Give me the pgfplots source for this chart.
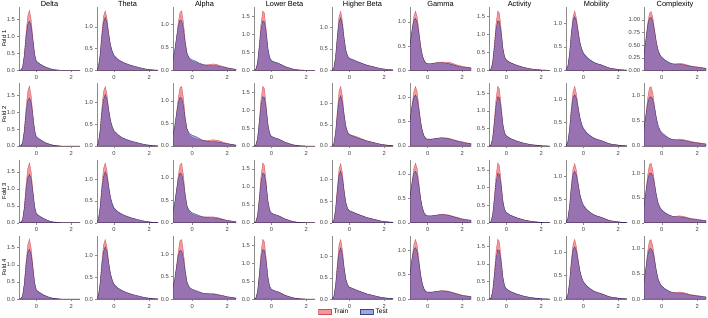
\documentclass[border=0pt]{standalone}
\usepackage{pgfplots}
\pgfplotsset{compat=1.18}
\usepackage{pgfplotstable}
\usepackage{fontspec}
\setmainfont{Liberation Sans}
\definecolor{trainred}{RGB}{235,45,55}
\definecolor{testblue}{RGB}{60,80,200}

% ---------------- data: one table per feature, columns tr<fold>/te<fold> ----------------
\pgfplotstableread{
x     tr1  te1  tr2  te2  tr3  te3  tr4  te4
-1.2  0    0    0    0    0    0    0    0
-1.1  0    0    0    0    0    0    0    0
-1.0  0    0    0    0    0    0    0    0
-0.9  0.01 0.01 0.01 0.01 0.01 0.01 0.01 0.01
-0.8  0.08 0.08 0.09 0.08 0.08 0.08 0.08 0.09
-0.7  0.45 0.42 0.47 0.42 0.46 0.41 0.44 0.43
-0.6  1.10 0.98 1.12 0.97 1.10 0.96 1.08 0.99
-0.5  1.60 1.36 1.61 1.34 1.60 1.34 1.58 1.37
-0.4  1.77 1.45 1.77 1.42 1.77 1.42 1.75 1.45
-0.3  1.50 1.30 1.49 1.28 1.50 1.29 1.49 1.31
-0.2  0.95 0.90 0.93 0.89 0.95 0.91 0.96 0.91
-0.1  0.45 0.47 0.44 0.47 0.45 0.48 0.46 0.47
0.0   0.24 0.27 0.24 0.27 0.25 0.27 0.25 0.26
0.2   0.18 0.19 0.18 0.20 0.18 0.19 0.17 0.19
0.4   0.12 0.13 0.12 0.13 0.12 0.13 0.12 0.12
0.6   0.08 0.08 0.08 0.08 0.07 0.08 0.07 0.08
0.8   0.04 0.05 0.04 0.05 0.04 0.04 0.04 0.04
1.0   0.02 0.02 0.02 0.02 0.02 0.02 0.02 0.02
1.2   0.01 0.01 0.01 0.01 0.01 0.01 0.01 0.01
1.4   0    0    0    0    0    0    0    0
2.5   0    0    0    0    0    0    0    0
}\tdelta

\pgfplotstableread{
x     tr1  te1  tr2  te2  tr3  te3  tr4  te4
-1.2  0    0    0    0    0    0    0    0
-1.1  0    0    0    0    0    0    0    0
-1.0  0.01 0.01 0.01 0.01 0.01 0.01 0.01 0.01
-0.9  0.06 0.06 0.06 0.06 0.06 0.06 0.06 0.06
-0.8  0.35 0.33 0.36 0.32 0.35 0.32 0.35 0.33
-0.7  0.85 0.78 0.86 0.76 0.85 0.75 0.85 0.77
-0.6  1.25 1.10 1.26 1.07 1.25 1.06 1.25 1.09
-0.5  1.37 1.22 1.37 1.18 1.37 1.17 1.37 1.20
-0.4  1.20 1.10 1.19 1.08 1.20 1.07 1.20 1.09
-0.3  0.85 0.82 0.84 0.82 0.85 0.81 0.85 0.82
-0.2  0.58 0.58 0.57 0.59 0.58 0.58 0.58 0.58
-0.1  0.42 0.44 0.42 0.45 0.42 0.44 0.42 0.44
0.0   0.33 0.34 0.33 0.35 0.33 0.34 0.33 0.34
0.2   0.25 0.26 0.25 0.27 0.25 0.26 0.25 0.26
0.4   0.20 0.21 0.20 0.21 0.20 0.21 0.20 0.21
0.6   0.16 0.17 0.16 0.17 0.16 0.17 0.16 0.17
0.8   0.13 0.14 0.13 0.14 0.13 0.14 0.13 0.14
1.0   0.11 0.11 0.11 0.11 0.11 0.11 0.11 0.11
1.2   0.08 0.09 0.08 0.09 0.08 0.09 0.08 0.09
1.4   0.06 0.07 0.06 0.07 0.06 0.07 0.06 0.07
1.6   0.04 0.05 0.04 0.05 0.04 0.05 0.04 0.05
1.8   0.03 0.03 0.03 0.03 0.03 0.03 0.03 0.03
2.0   0.02 0.02 0.02 0.02 0.02 0.02 0.02 0.02
2.2   0.01 0.01 0.01 0.01 0.01 0.01 0.01 0.01
2.5   0.005 0.005 0.005 0.005 0.005 0.005 0.005 0.005
}\ttheta

\pgfplotstableread{
x     tr1  te1  tr2  te2  tr3  te3  tr4  te4
-1.2  0.05 0.08 0.05 0.08 0.05 0.08 0.05 0.08
-1.1  0.23 0.27 0.24 0.27 0.23 0.27 0.24 0.28
-1.0  0.42 0.46 0.43 0.46 0.42 0.46 0.43 0.46
-0.9  0.72 0.72 0.74 0.72 0.73 0.73 0.74 0.72
-0.8  1.05 0.97 1.07 0.96 1.06 0.98 1.07 0.97
-0.7  1.27 1.10 1.30 1.08 1.29 1.10 1.30 1.08
-0.6  1.30 1.08 1.32 1.06 1.32 1.08 1.32 1.06
-0.5  1.05 0.90 1.06 0.89 1.05 0.90 1.05 0.89
-0.4  0.65 0.60 0.64 0.60 0.64 0.60 0.65 0.60
-0.3  0.38 0.38 0.37 0.39 0.37 0.38 0.38 0.38
-0.2  0.27 0.29 0.26 0.30 0.26 0.29 0.27 0.29
-0.1  0.22 0.25 0.21 0.26 0.21 0.25 0.22 0.24
0.0   0.20 0.23 0.19 0.24 0.19 0.22 0.20 0.22
0.2   0.17 0.20 0.16 0.21 0.16 0.19 0.17 0.19
0.4   0.14 0.16 0.14 0.17 0.14 0.16 0.15 0.16
0.6   0.12 0.13 0.12 0.13 0.13 0.13 0.13 0.13
0.8   0.12 0.11 0.12 0.11 0.13 0.12 0.12 0.12
1.0   0.13 0.10 0.13 0.10 0.13 0.11 0.12 0.11
1.2   0.14 0.10 0.14 0.10 0.13 0.11 0.12 0.11
1.4   0.13 0.10 0.13 0.09 0.12 0.10 0.11 0.10
1.6   0.10 0.08 0.11 0.08 0.10 0.08 0.09 0.08
1.8   0.08 0.07 0.08 0.06 0.07 0.07 0.07 0.07
2.0   0.06 0.05 0.06 0.05 0.05 0.05 0.05 0.05
2.2   0.04 0.04 0.04 0.04 0.04 0.04 0.04 0.04
2.5   0.02 0.02 0.02 0.02 0.02 0.02 0.02 0.02
}\talpha

\pgfplotstableread{
x     tr1  te1  tr2  te2  tr3  te3  tr4  te4
-1.2  0    0    0    0    0    0    0    0
-1.1  0    0    0    0    0    0    0    0
-1.0  0    0    0    0    0    0    0    0
-0.9  0.02 0.02 0.02 0.02 0.02 0.02 0.02 0.02
-0.8  0.20 0.20 0.21 0.20 0.20 0.19 0.20 0.20
-0.7  0.70 0.65 0.71 0.64 0.70 0.64 0.70 0.65
-0.6  1.30 1.15 1.31 1.14 1.30 1.14 1.30 1.15
-0.5  1.66 1.38 1.67 1.38 1.67 1.38 1.67 1.38
-0.4  1.60 1.35 1.60 1.35 1.60 1.35 1.60 1.35
-0.3  1.15 1.05 1.14 1.05 1.15 1.05 1.15 1.05
-0.2  0.60 0.62 0.60 0.62 0.60 0.62 0.60 0.62
-0.1  0.33 0.36 0.33 0.36 0.33 0.36 0.33 0.36
0.0   0.26 0.27 0.26 0.27 0.26 0.27 0.26 0.27
0.2   0.22 0.23 0.22 0.23 0.22 0.23 0.22 0.23
0.4   0.19 0.20 0.19 0.20 0.19 0.20 0.19 0.20
0.6   0.15 0.15 0.15 0.15 0.15 0.15 0.15 0.15
0.8   0.10 0.10 0.10 0.10 0.10 0.10 0.10 0.10
1.0   0.07 0.07 0.07 0.07 0.07 0.07 0.07 0.07
1.2   0.04 0.04 0.04 0.04 0.04 0.04 0.04 0.04
1.4   0.02 0.02 0.02 0.02 0.02 0.02 0.02 0.02
1.6   0.01 0.01 0.01 0.01 0.01 0.01 0.01 0.01
1.8   0.005 0.005 0.005 0.005 0.005 0.005 0.005 0.005
2.0   0    0    0    0    0    0    0    0
2.5   0    0    0    0    0    0    0    0
}\tlbeta

\pgfplotstableread{
x     tr1  te1  tr2  te2  tr3  te3  tr4  te4
-1.2  0    0    0    0    0    0    0    0
-1.1  0    0    0    0    0    0    0    0
-1.0  0.005 0.005 0.005 0.005 0.005 0.005 0.005 0.005
-0.9  0.05 0.05 0.05 0.05 0.05 0.05 0.05 0.05
-0.8  0.30 0.30 0.31 0.29 0.30 0.30 0.31 0.30
-0.7  0.80 0.75 0.82 0.73 0.80 0.74 0.82 0.74
-0.6  1.25 1.12 1.28 1.08 1.25 1.10 1.28 1.10
-0.5  1.37 1.22 1.40 1.18 1.37 1.20 1.40 1.20
-0.4  1.15 1.05 1.17 1.03 1.15 1.04 1.16 1.04
-0.3  0.75 0.72 0.75 0.72 0.75 0.72 0.75 0.72
-0.2  0.45 0.46 0.45 0.46 0.45 0.46 0.45 0.46
-0.1  0.32 0.33 0.32 0.32 0.32 0.33 0.32 0.33
0.0   0.27 0.28 0.27 0.27 0.27 0.28 0.27 0.28
0.2   0.24 0.25 0.25 0.23 0.24 0.25 0.24 0.25
0.4   0.21 0.21 0.22 0.20 0.21 0.21 0.21 0.21
0.6   0.18 0.18 0.19 0.17 0.18 0.18 0.18 0.18
0.8   0.15 0.15 0.15 0.15 0.15 0.15 0.15 0.15
1.0   0.12 0.12 0.12 0.12 0.12 0.12 0.12 0.12
1.2   0.10 0.10 0.10 0.10 0.10 0.10 0.10 0.10
1.4   0.08 0.08 0.08 0.08 0.08 0.08 0.08 0.08
1.6   0.06 0.06 0.06 0.06 0.06 0.06 0.06 0.06
1.8   0.04 0.04 0.04 0.04 0.04 0.04 0.04 0.04
2.0   0.03 0.03 0.03 0.03 0.03 0.03 0.03 0.03
2.2   0.02 0.02 0.02 0.02 0.02 0.02 0.02 0.02
2.5   0.01 0.01 0.01 0.01 0.01 0.01 0.01 0.01
}\thbeta

\pgfplotstableread{
x     tr1  te1  tr2  te2  tr3  te3  tr4  te4
-1.2  0.15 0.20 0.15 0.20 0.15 0.20 0.15 0.20
-1.1  0.35 0.40 0.35 0.40 0.35 0.40 0.35 0.40
-1.0  0.55 0.58 0.56 0.58 0.55 0.58 0.55 0.58
-0.9  0.85 0.85 0.86 0.84 0.85 0.84 0.85 0.84
-0.8  1.12 1.03 1.12 1.00 1.12 1.01 1.12 1.01
-0.7  1.22 1.07 1.22 1.04 1.22 1.05 1.22 1.05
-0.6  1.10 0.98 1.10 0.96 1.10 0.97 1.10 0.97
-0.5  0.80 0.75 0.80 0.74 0.80 0.74 0.80 0.74
-0.4  0.50 0.48 0.50 0.48 0.50 0.48 0.50 0.48
-0.3  0.30 0.30 0.30 0.30 0.30 0.30 0.30 0.30
-0.2  0.20 0.20 0.20 0.20 0.20 0.20 0.20 0.20
-0.1  0.15 0.15 0.15 0.15 0.15 0.15 0.15 0.15
0.0   0.14 0.14 0.14 0.14 0.14 0.14 0.14 0.14
0.2   0.14 0.14 0.14 0.14 0.14 0.14 0.14 0.14
0.4   0.15 0.15 0.15 0.15 0.15 0.15 0.15 0.15
0.6   0.16 0.16 0.16 0.16 0.16 0.16 0.16 0.16
0.8   0.17 0.16 0.17 0.17 0.17 0.17 0.17 0.17
1.0   0.17 0.15 0.17 0.16 0.17 0.16 0.17 0.16
1.2   0.17 0.14 0.16 0.15 0.16 0.15 0.16 0.15
1.4   0.15 0.12 0.14 0.13 0.14 0.13 0.14 0.13
1.6   0.12 0.10 0.12 0.11 0.12 0.11 0.12 0.11
1.8   0.10 0.08 0.10 0.09 0.10 0.09 0.10 0.09
2.0   0.08 0.07 0.09 0.07 0.08 0.07 0.08 0.07
2.2   0.07 0.06 0.07 0.06 0.07 0.06 0.07 0.06
2.5   0.05 0.05 0.05 0.05 0.05 0.05 0.05 0.05
}\tgamma

\pgfplotstableread{
x     tr1  te1  tr2  te2  tr3  te3  tr4  te4
-1.2  0    0    0    0    0    0    0    0
-1.1  0    0    0    0    0    0    0    0
-1.0  0    0    0    0    0    0    0    0
-0.9  0.02 0.02 0.02 0.02 0.02 0.02 0.02 0.02
-0.8  0.20 0.19 0.21 0.19 0.20 0.19 0.20 0.19
-0.7  0.70 0.64 0.71 0.64 0.71 0.64 0.71 0.64
-0.6  1.30 1.14 1.33 1.14 1.33 1.14 1.33 1.14
-0.5  1.66 1.38 1.70 1.40 1.70 1.40 1.70 1.40
-0.4  1.60 1.36 1.62 1.37 1.62 1.37 1.62 1.37
-0.3  1.15 1.05 1.15 1.05 1.15 1.05 1.15 1.05
-0.2  0.60 0.62 0.60 0.62 0.60 0.62 0.60 0.62
-0.1  0.35 0.37 0.35 0.37 0.35 0.37 0.35 0.37
0.0   0.28 0.29 0.28 0.29 0.28 0.29 0.28 0.29
0.2   0.22 0.22 0.22 0.22 0.22 0.22 0.22 0.22
0.4   0.18 0.18 0.18 0.18 0.18 0.18 0.18 0.18
0.6   0.14 0.14 0.14 0.14 0.14 0.14 0.14 0.14
0.8   0.11 0.11 0.11 0.11 0.11 0.11 0.11 0.11
1.0   0.08 0.08 0.08 0.08 0.08 0.08 0.08 0.08
1.2   0.06 0.06 0.06 0.06 0.06 0.06 0.06 0.06
1.4   0.04 0.04 0.04 0.04 0.04 0.04 0.04 0.04
1.6   0.03 0.03 0.03 0.03 0.03 0.03 0.03 0.03
1.8   0.02 0.02 0.02 0.02 0.02 0.02 0.02 0.02
2.0   0.01 0.01 0.01 0.01 0.01 0.01 0.01 0.01
2.2   0.005 0.005 0.005 0.005 0.005 0.005 0.005 0.005
2.5   0    0    0    0    0    0    0    0
}\tactivity

\pgfplotstableread{
x     tr1  te1  tr2  te2  tr3  te3  tr4  te4
-1.2  0    0    0    0    0    0    0    0
-1.1  0    0    0    0    0    0    0    0
-1.0  0.01 0.01 0.01 0.01 0.01 0.01 0.01 0.01
-0.9  0.08 0.08 0.08 0.08 0.08 0.08 0.08 0.08
-0.8  0.35 0.35 0.36 0.34 0.35 0.34 0.36 0.35
-0.7  0.80 0.78 0.82 0.75 0.80 0.75 0.82 0.77
-0.6  1.15 1.08 1.17 1.04 1.16 1.04 1.17 1.06
-0.5  1.27 1.15 1.28 1.10 1.27 1.10 1.28 1.12
-0.4  1.12 1.05 1.12 1.02 1.12 1.02 1.12 1.03
-0.3  0.85 0.82 0.85 0.82 0.85 0.82 0.85 0.82
-0.2  0.60 0.60 0.60 0.61 0.60 0.61 0.60 0.60
-0.1  0.45 0.46 0.45 0.47 0.45 0.47 0.45 0.46
0.0   0.36 0.37 0.36 0.38 0.36 0.38 0.36 0.37
0.2   0.27 0.28 0.27 0.28 0.27 0.28 0.27 0.28
0.4   0.21 0.22 0.21 0.22 0.21 0.22 0.21 0.22
0.6   0.17 0.17 0.17 0.17 0.17 0.17 0.17 0.17
0.8   0.14 0.14 0.14 0.14 0.14 0.14 0.14 0.14
1.0   0.12 0.12 0.12 0.12 0.12 0.12 0.12 0.12
1.2   0.09 0.09 0.09 0.09 0.09 0.09 0.09 0.09
1.4   0.06 0.06 0.06 0.06 0.06 0.06 0.06 0.06
1.6   0.04 0.04 0.04 0.04 0.04 0.04 0.04 0.04
1.8   0.03 0.03 0.03 0.03 0.03 0.03 0.03 0.03
2.0   0.02 0.02 0.02 0.02 0.02 0.02 0.02 0.02
2.2   0.01 0.01 0.01 0.01 0.01 0.01 0.01 0.01
2.5   0.005 0.005 0.005 0.005 0.005 0.005 0.005 0.005
}\tmobility

\pgfplotstableread{
x     tr1  te1  tr2  te2  tr3  te3  tr4  te4
-1.2  0.05 0.06 0.05 0.07 0.05 0.07 0.05 0.07
-1.1  0.15 0.17 0.16 0.19 0.16 0.19 0.16 0.19
-1.0  0.30 0.32 0.31 0.34 0.31 0.34 0.31 0.34
-0.9  0.60 0.60 0.61 0.60 0.62 0.61 0.61 0.61
-0.8  0.92 0.88 0.94 0.84 0.95 0.86 0.94 0.86
-0.7  1.12 1.02 1.15 0.96 1.17 0.99 1.15 0.99
-0.6  1.17 1.05 1.18 0.98 1.20 1.00 1.18 1.00
-0.5  1.05 0.97 1.05 0.92 1.06 0.94 1.05 0.94
-0.4  0.80 0.78 0.79 0.76 0.80 0.77 0.80 0.77
-0.3  0.55 0.56 0.54 0.56 0.55 0.56 0.55 0.56
-0.2  0.38 0.40 0.37 0.41 0.38 0.40 0.38 0.40
-0.1  0.30 0.31 0.29 0.32 0.30 0.31 0.30 0.31
0.0   0.25 0.26 0.24 0.27 0.25 0.26 0.25 0.26
0.2   0.19 0.20 0.19 0.21 0.19 0.20 0.19 0.20
0.4   0.15 0.16 0.15 0.16 0.15 0.16 0.15 0.16
0.6   0.13 0.13 0.13 0.13 0.13 0.13 0.13 0.13
0.8   0.13 0.12 0.13 0.12 0.13 0.12 0.13 0.12
1.0   0.14 0.12 0.14 0.12 0.14 0.12 0.14 0.12
1.2   0.13 0.11 0.13 0.11 0.13 0.11 0.13 0.11
1.4   0.11 0.10 0.11 0.10 0.11 0.10 0.11 0.10
1.6   0.09 0.08 0.10 0.08 0.09 0.08 0.09 0.08
1.8   0.08 0.07 0.08 0.07 0.08 0.07 0.08 0.07
2.0   0.07 0.06 0.07 0.06 0.07 0.06 0.07 0.06
2.2   0.06 0.05 0.06 0.05 0.06 0.05 0.06 0.05
2.5   0.04 0.04 0.04 0.04 0.04 0.04 0.04 0.04
}\tcomplexity

\pgfplotsset{
  panel/.style={
    scale only axis, height=63pt, ymin=0, xmax=2.5,
    axis x line*=bottom, axis y line*=left,
    axis line style={-, black!45, line width=0.5pt},
    xtick={0,2}, xticklabels={0,2},
    tick style={black!45, line width=0.4pt},
    tick align=outside, major tick length=2pt,
    ticklabel style={font=\fontsize{5.8}{6.5}\selectfont, text=black!75},
    xticklabel style={yshift=0.5pt},
    yticklabel style={xshift=1.5pt},
    /pgf/number format/.cd, fixed, fixed zerofill, precision=1, assume math mode=true,
    /pgfplots/.cd,
    every axis title/.style={at={(0.5,1)}, anchor=base, yshift=0.8pt, font=\fontsize{7.4}{8}\selectfont},
    every axis y label/.style={at={(axis description cs:-0.245,0.5)}, anchor=center, rotate=90, font=\fontsize{5.8}{6.5}\selectfont},
  },
  trainp/.style={fill=trainred, fill opacity=0.5, draw=trainred!75!black, draw opacity=0.6, line width=0.35pt},
  testp/.style={fill=testblue, fill opacity=0.5, draw=testblue!45!black, draw opacity=0.75, line width=0.35pt},
  ya/.style={ytick={0,0.5,1,1.5}},
  yb/.style={ytick={0,0.5,1}},
}

\newcommand{\panel}[8]{%
  \begin{axis}[panel, at={(#1pt,#2pt)}, width=#3pt, xmin=#4, ymax=#5, #8]
    \addplot[trainp] table[x=x,y=tr#7]{#6} \closedcycle;
    \addplot[testp] table[x=x,y=te#7]{#6} \closedcycle;
  \end{axis}}

\begin{document}
\begin{tikzpicture}
\useasboundingbox (0,0) rectangle (708pt,317pt);
% row 1
\panel{19}{246.7}{61}{-1}{1.86}{\tdelta}{1}{ya, title={Delta}, ylabel={Fold 1}}
\panel{97}{246.7}{61}{-0.97}{1.45}{\ttheta}{1}{yb, title={Theta}}
\panel{173}{246.7}{63}{-1.1}{1.38}{\talpha}{1}{yb, title={Alpha}}
\panel{254}{246.7}{61}{-1}{1.76}{\tlbeta}{1}{ya, title={Lower Beta}}
\panel{332}{246.7}{61}{-1}{1.46}{\thbeta}{1}{yb, title={Higher Beta}}
\panel{410}{246.7}{61}{-1.02}{1.30}{\tgamma}{1}{yb, title={Gamma}}
\panel{489}{246.7}{61}{-1}{1.76}{\tactivity}{1}{ya, title={Activity}}
\panel{566}{246.7}{61}{-1}{1.35}{\tmobility}{1}{yb, title={Mobility}}
\panel{644}{246.7}{62}{-1}{1.25}{\tcomplexity}{1}{ytick={0,0.25,0.5,0.75,1}, /pgf/number format/precision=2, title={Complexity}}
% row 2
\panel{19}{171}{61}{-1}{1.86}{\tdelta}{2}{ya, ylabel={Fold 2}}
\panel{97}{171}{61}{-0.97}{1.45}{\ttheta}{2}{yb}
\panel{173}{171}{63}{-1.1}{1.40}{\talpha}{2}{yb}
\panel{254}{171}{61}{-1}{1.76}{\tlbeta}{2}{ya}
\panel{332}{171}{61}{-1}{1.48}{\thbeta}{2}{yb}
\panel{410}{171}{61}{-1.02}{1.29}{\tgamma}{2}{yb}
\panel{489}{171}{61}{-1}{1.79}{\tactivity}{2}{ya}
\panel{566}{171}{61}{-1}{1.35}{\tmobility}{2}{yb}
\panel{644}{171}{62}{-1}{1.25}{\tcomplexity}{2}{yb}
% row 3
\panel{19}{94.3}{61}{-1}{1.86}{\tdelta}{3}{ya, ylabel={Fold 3}}
\panel{97}{94.3}{61}{-0.97}{1.45}{\ttheta}{3}{yb}
\panel{173}{94.3}{63}{-1.1}{1.40}{\talpha}{3}{yb}
\panel{254}{94.3}{61}{-1}{1.76}{\tlbeta}{3}{ya}
\panel{332}{94.3}{61}{-1}{1.46}{\thbeta}{3}{yb}
\panel{410}{94.3}{61}{-1.02}{1.29}{\tgamma}{3}{yb}
\panel{489}{94.3}{61}{-1}{1.79}{\tactivity}{3}{ya}
\panel{566}{94.3}{61}{-1}{1.35}{\tmobility}{3}{yb}
\panel{644}{94.3}{62}{-1}{1.27}{\tcomplexity}{3}{yb}
% row 4
\panel{19}{18}{61}{-1}{1.84}{\tdelta}{4}{ya, ylabel={Fold 4}}
\panel{97}{18}{61}{-0.97}{1.45}{\ttheta}{4}{yb}
\panel{173}{18}{63}{-1.1}{1.40}{\talpha}{4}{yb}
\panel{254}{18}{61}{-1}{1.76}{\tlbeta}{4}{ya}
\begin{axis}[panel, at={(332pt,18pt)}, width=61pt, xmin=-1, ymax=1.48, yb,
  legend columns=2,
  legend style={draw=none, fill=none, at={(axis description cs:0.36,-0.206)}, anchor=center,
    font=\fontsize{6.5}{7}\selectfont, /tikz/every even column/.append style={column sep=10pt}},
  legend image code/.code={\draw[#1] (0pt,-2.6pt) rectangle (13pt,2.6pt);}]
  \addplot[trainp] table[x=x,y=tr4]{\thbeta} \closedcycle;
  \addlegendentry{Train}
  \addplot[testp] table[x=x,y=te4]{\thbeta} \closedcycle;
  \addlegendentry{Test}
\end{axis}
\panel{410}{18}{61}{-1.02}{1.29}{\tgamma}{4}{yb}
\panel{489}{18}{61}{-1}{1.79}{\tactivity}{4}{ya}
\panel{566}{18}{61}{-1}{1.35}{\tmobility}{4}{yb}
\panel{644}{18}{62}{-1}{1.25}{\tcomplexity}{4}{yb}
\end{tikzpicture}
\end{document}
